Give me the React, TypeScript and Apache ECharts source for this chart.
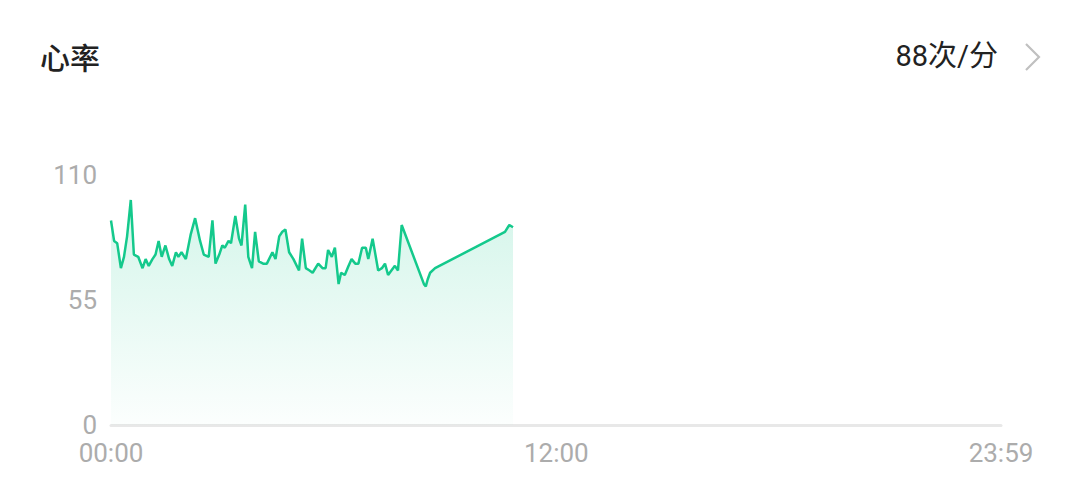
import React, { useEffect, useRef } from "react";
import * as echarts from "echarts";

const title = "心率";
const currentValue = "88次/分";

const times = [
  "00:00", "00:05", "00:10", "00:16", "00:21", "00:26", "00:32", "00:37", "00:44", "00:51",
  "00:56", "01:01", "01:07", "01:12", "01:17", "01:22", "01:28", "01:34", "01:39", "01:45",
  "01:49", "01:54", "02:01", "02:09", "02:16", "02:24", "02:30", "02:38", "02:44", "02:49",
  "02:55", "03:00", "03:04", "03:10", "03:14", "03:21", "03:27", "03:31", "03:37", "03:42",
  "03:48", "03:53", "03:59", "04:06", "04:12", "04:21", "04:26", "04:32", "04:37", "04:42",
  "04:48", "04:55", "05:04", "05:09", "05:15", "05:21", "05:26", "05:35", "05:42", "05:47",
  "05:51", "05:57", "06:02", "06:08", "06:12", "06:18", "06:24", "06:29", "06:35", "06:40",
  "06:46", "06:52", "06:56", "07:03", "07:12", "07:18", "07:23", "07:28", "07:36", "07:39",
  "07:44", "07:50", "08:26", "08:29", "08:32", "08:36", "08:44", "10:37", "10:44", "10:50",
];

const heartRates = [
  90, 81, 80, 69, 74, 83, 99, 75, 74, 69,
  73, 70, 73, 75, 81, 74, 79, 73, 70, 76,
  74, 76, 73, 84, 91, 81, 75, 74, 90, 71,
  75, 79, 78, 81, 80, 92, 82, 79, 97, 74,
  69, 85, 72, 71, 71, 76, 73, 83, 85, 86,
  76, 73, 68, 82, 69, 68, 67, 71, 69, 69,
  77, 74, 78, 62, 67, 66, 70, 73, 71, 71,
  78, 78, 73, 82, 68, 69, 71, 66, 69, 70,
  68, 88, 62, 61, 64, 67, 69, 85, 88, 87,
];

const xLabelValues = [0, 720, 1439];
const yMin = 0;
const yMax = 110;
const yInterval = 55;

const toMinutes = (t: string) => {
  const [h, m] = t.split(":").map(Number);
  return h * 60 + m;
};
const toLabel = (v: number) => {
  const h = Math.floor(v / 60);
  const m = Math.round(v % 60);
  return `${String(h).padStart(2, "0")}:${String(m).padStart(2, "0")}`;
};

export default function App() {
  const ref = useRef<HTMLDivElement>(null);
  useEffect(() => {
    document.body.style.margin = "0";
    if (!ref.current) return;
    const chart = echarts.init(ref.current, null, { renderer: "svg" });
    const data = times.map((t, i) => [toMinutes(t), heartRates[i]]);
    chart.setOption({
      animation: false,
      backgroundColor: "#ffffff",
      grid: { left: 111, right: 79, top: 175, bottom: 71, containLabel: false },
      graphic: [
        {
          type: "text",
          left: 40,
          top: 41,
          style: {
            text: title,
            fill: "#222222",
            fontSize: 30,
            fontWeight: 500,
            fontFamily: "Noto Sans CJK SC",
          },
        },
        {
          type: "text",
          right: 82,
          top: 41,
          style: {
            text: currentValue,
            fill: "#222222",
            fontSize: 29,
            fontFamily: "Roboto, Noto Sans CJK SC",
          },
        },
        {
          type: "polyline",
          shape: { points: [[1026, 44], [1039, 57], [1026, 70]] },
          style: { stroke: "#c0c0c0", lineWidth: 2.2, fill: null },
        },
      ],
      xAxis: {
        type: "value",
        min: 0,
        max: 1439,
        axisLine: { show: true, lineStyle: { color: "#e8e8e8", width: 3 } },
        axisTick: { show: false },
        splitLine: { show: false },
        axisLabel: {
          customValues: xLabelValues,
          formatter: (v: number) => toLabel(v),
          color: "#acacac",
          fontSize: 26,
          fontFamily: "Roboto",
          margin: 15,
          showMinLabel: true,
          showMaxLabel: true,
        },
      },
      yAxis: {
        type: "value",
        min: yMin,
        max: yMax,
        interval: yInterval,
        axisLine: { show: false },
        axisTick: { show: false },
        splitLine: { show: false },
        axisLabel: {
          color: "#acacac",
          fontSize: 26,
          fontFamily: "Roboto",
          margin: 14,
        },
      },
      series: [
        {
          type: "line",
          data,
          showSymbol: false,
          smooth: false,
          lineStyle: { color: "#14c98c", width: 2.5 },
          itemStyle: { color: "#14c98c" },
          areaStyle: {
            color: new echarts.graphic.LinearGradient(0, 0, 0, 1, [
              { offset: 0, color: "rgba(20,201,140,0.26)" },
              { offset: 1, color: "rgba(20,201,140,0.02)" },
            ]),
          },
        },
      ],
    });
    return () => chart.dispose();
  }, []);
  return <div ref={ref} style={{ width: 1080, height: 496 }} />;
}
